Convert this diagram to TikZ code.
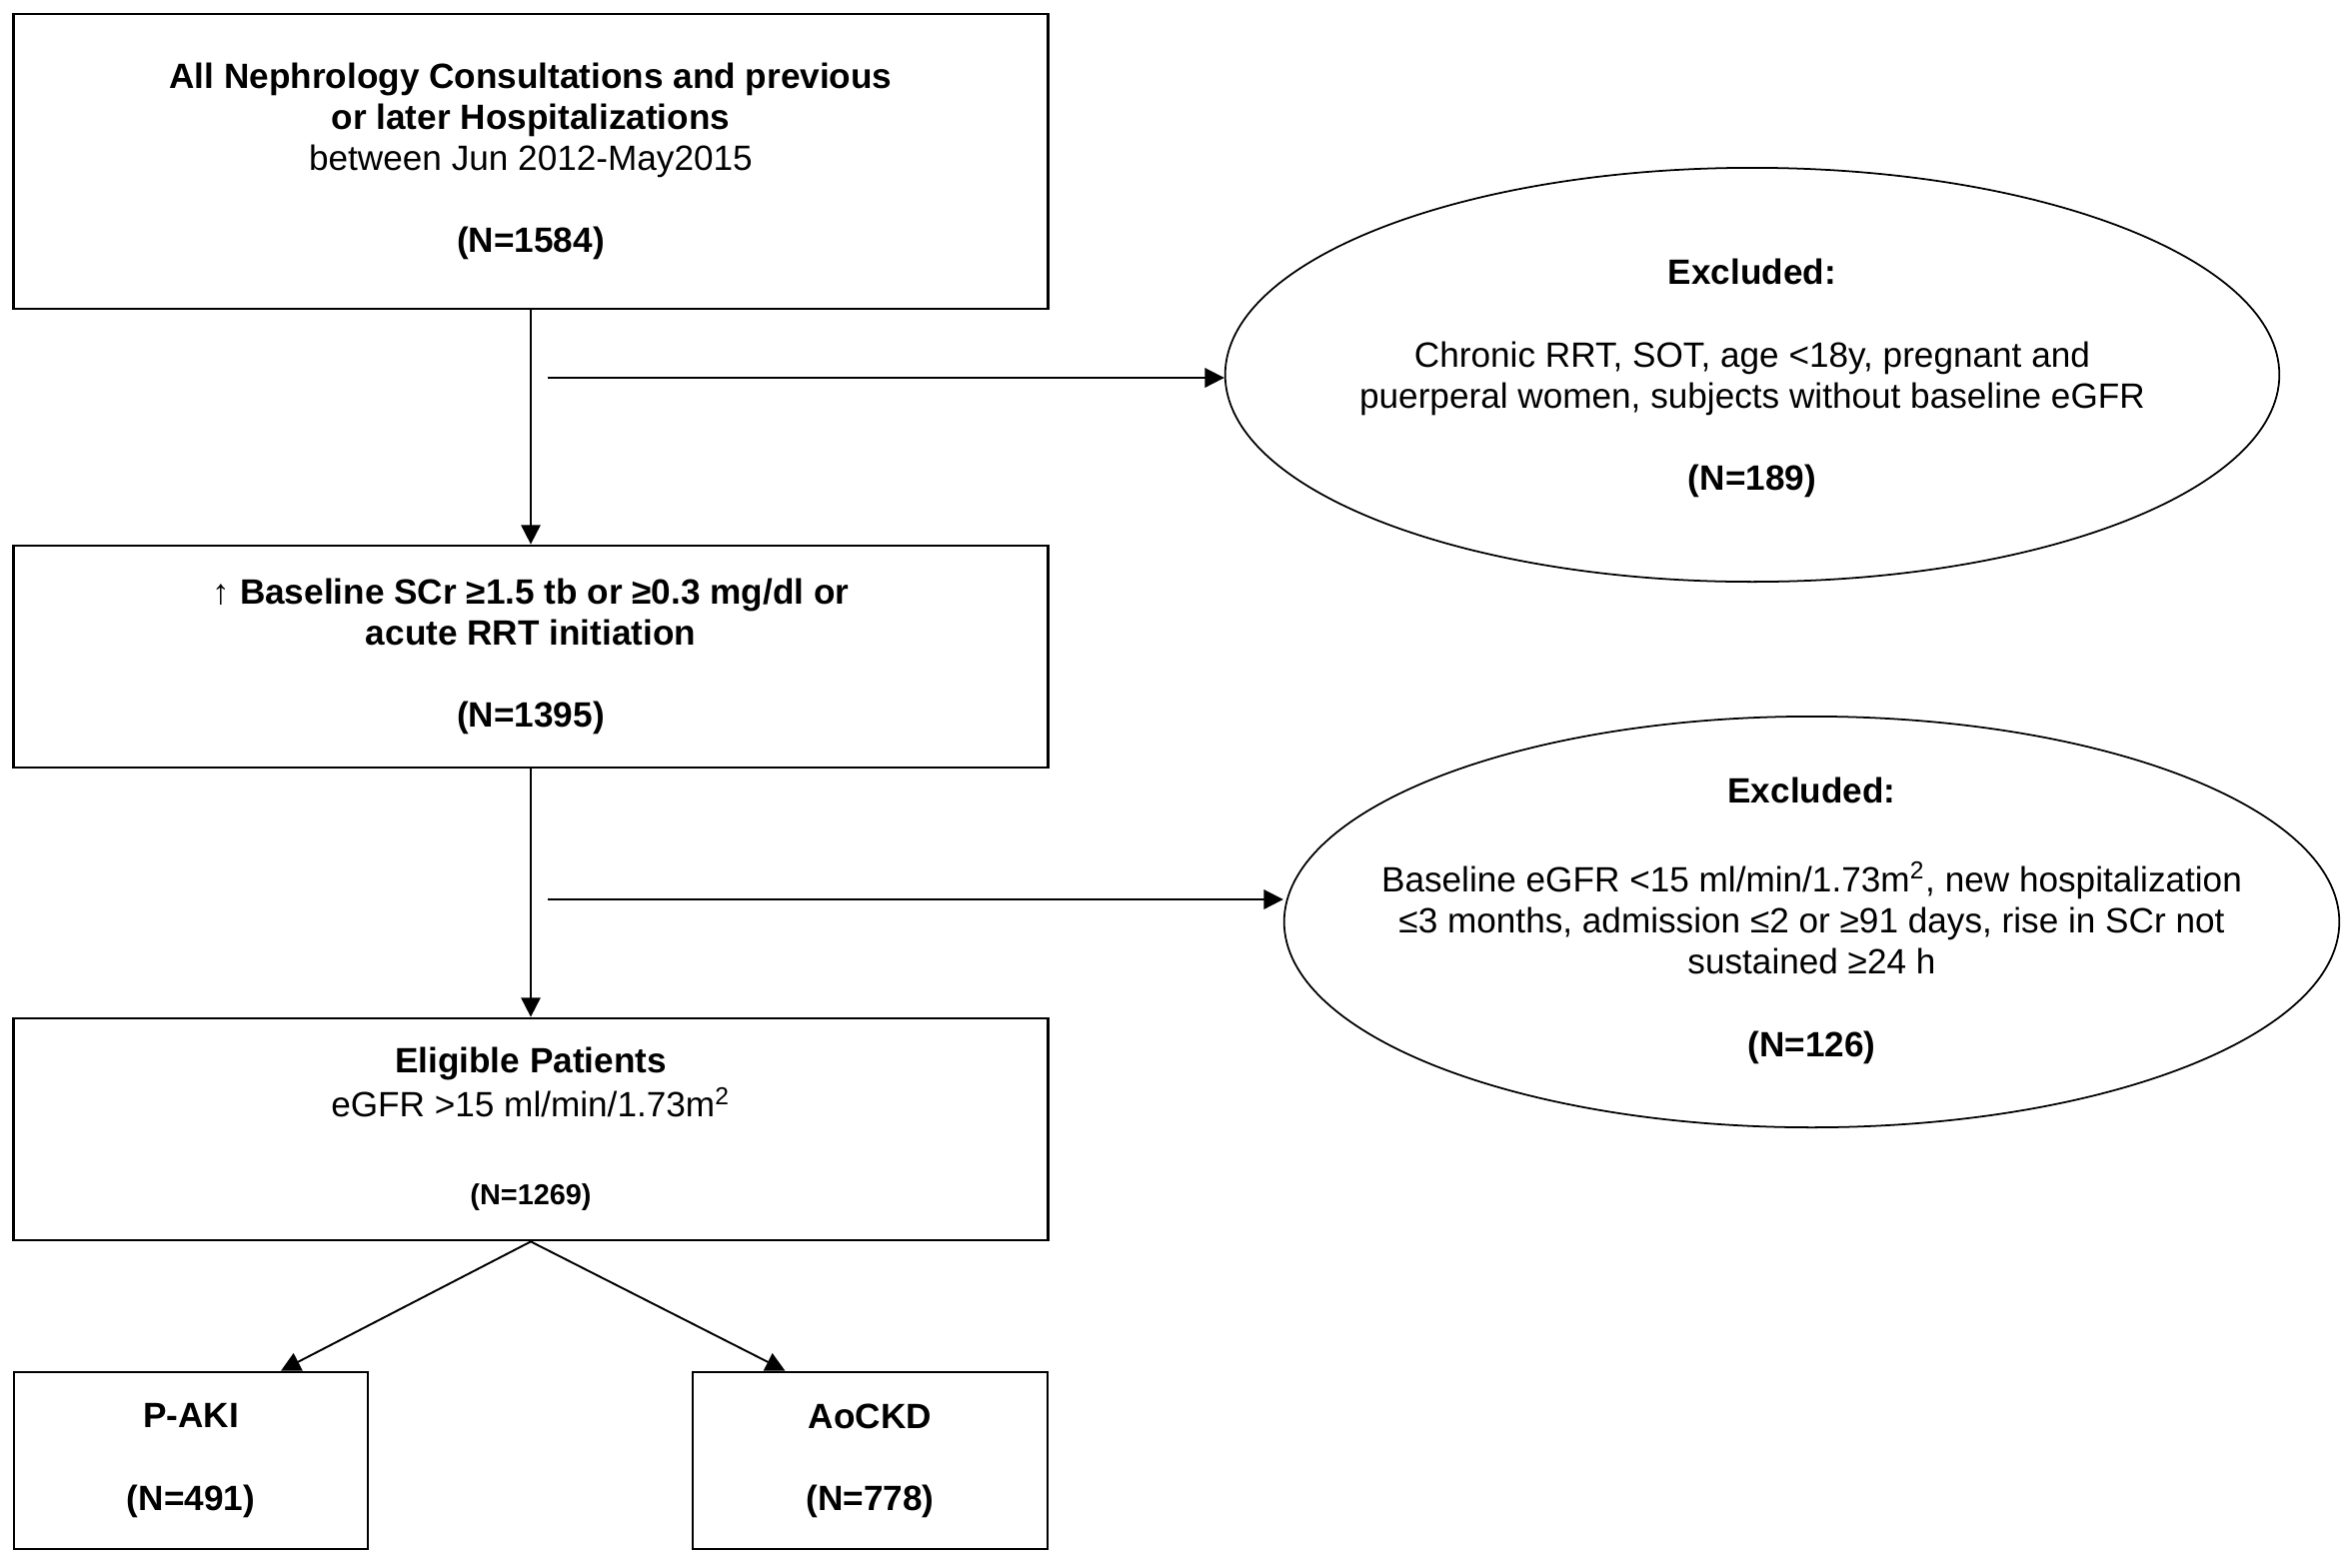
\documentclass[tikz,border=0pt]{standalone}
\usepackage{fontspec}
\setmainfont{Liberation Sans}
\usetikzlibrary{arrows.meta,shapes.geometric}
\begin{document}
\begin{tikzpicture}[x=0.01cm,y=-0.01cm,
  box/.style={draw=black,line width=0.75pt,rectangle,inner sep=0pt,align=center,font=\fontsize{10}{11.7}\selectfont},
  oval/.style={draw=black,line width=0.5pt,ellipse,inner sep=0pt},
  txt/.style={align=center,inner sep=0pt,font=\fontsize{10}{11.7}\selectfont},
  arr/.style={line width=0.55pt,-{Triangle[length=5.5pt,width=5.5pt]}}]
\useasboundingbox (0,0) rectangle (2353,1569);
\fill[white] (0,0) rectangle (2353,1569);

% boxes
\node[box,minimum width=10.34cm,minimum height=2.95cm] (b1) at (531,161.5)
  {\textbf{All Nephrology Consultations and previous}\\
   \textbf{or later Hospitalizations}\\
   between Jun 2012-May2015\\[11.7pt]
   \textbf{(N=1584)}};
\node[box,minimum width=10.34cm,minimum height=2.22cm] (b2) at (531,657)
  {\textbf{↑ Baseline SCr ≥1.5 tb or ≥0.3 mg/dl or}\\
   \textbf{acute RRT initiation}\\[11.7pt]
   \textbf{(N=1395)}};
\node[box,minimum width=10.34cm,minimum height=2.22cm] (b3) at (531,1130)
  {\textbf{Eligible Patients}\\[0.8pt]
   eGFR >15 ml/min/1.73m\textsuperscript{2}\\[13.3pt]
   {\fontsize{8.2}{10}\selectfont\textbf{(N=1269)}}};
\node[box,minimum width=3.54cm,minimum height=1.77cm] (pa) at (191,1461.5)
  {\textbf{P-AKI}\\[11.7pt] \textbf{(N=491)}};
\node[box,minimum width=3.55cm,minimum height=1.77cm] (ao) at (870.5,1461.5)
  {\textbf{AoCKD}\\[11.7pt] \textbf{(N=778)}};

% exclusion ellipses
\node[oval,minimum width=10.54cm,minimum height=4.14cm] (e1) at (1753,375) {};
\node[txt] (t1) at (1753,378.5)
  {\textbf{Excluded:}\\[11.7pt]
   Chronic RRT, SOT, age <18y, pregnant and\\
   puerperal women, subjects without baseline eGFR\\[11.7pt]
   \textbf{(N=189)}};
\node[oval,minimum width=10.55cm,minimum height=4.11cm] (e2) at (1812.5,922.5) {};
\node[txt] (t2) at (1812.5,921)
  {\textbf{Excluded:}\\[13.7pt]
   Baseline eGFR <15 ml/min/1.73m\textsuperscript{2}, new hospitalization\\
   ≤3 months, admission ≤2 or ≥91 days, rise in SCr not\\
   sustained ≥24 h\\[11.7pt]
   \textbf{(N=126)}};

% connectors
\coordinate (h1) at (548,378);
\coordinate (h2) at (548,900);
\draw[arr] (b1) -- (b2);
\draw[arr] (b2) -- (b3);
\draw[arr] (h1) -- (h1 -| e1.west);
\draw[arr] (h2) -- (h2 -| e2.west);
\draw[arr] (b3.south) -- ([xshift=0.90cm]pa.north);
\draw[arr] (b3.south) -- ([xshift=-0.85cm]ao.north);
\end{tikzpicture}
\end{document}
